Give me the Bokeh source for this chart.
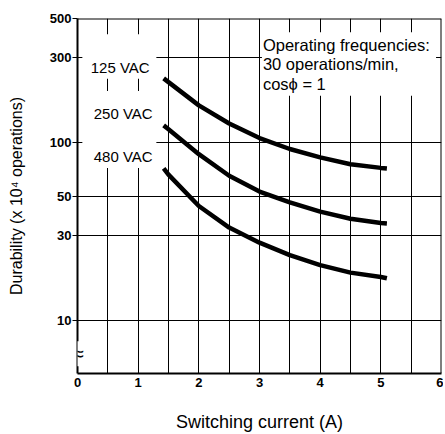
from bokeh.plotting import figure
from bokeh.models import FixedTicker, Label, BoxAnnotation, Span
from bokeh.embed import file_html
from bokeh.resources import INLINE

# ---- data ----
current = [1.42, 1.5, 2.0, 2.5, 3.0, 3.5, 4.0, 4.5, 5.0, 5.1]
dur_125 = [230, 219, 162, 128, 106, 92, 82.5, 75.5, 72, 71.5]
dur_250 = [125, 119, 86, 65, 53, 46, 40.8, 37.2, 35.2, 35]
dur_480 = [71.5, 66, 43.9, 33.2, 27.3, 23.2, 20.4, 18.5, 17.5, 17.2]
series_labels = ["125 VAC", "250 VAC", "480 VAC"]
x_ticks = [0, 1, 2, 3, 4, 5, 6]
x_grid = [0.5, 1, 1.5, 2, 2.5, 3, 3.5, 4, 4.5, 5, 5.5]
y_ticks = [10, 30, 50, 100, 300, 500]
y_grid = [10, 30, 50, 100, 300]
note = "Operating frequencies:\n30 operations/min,\ncos\u03d5 = 1"

FONT = "Liberation Sans"

p = figure(width=443, height=434, x_range=(0, 6), y_range=(5, 500),
           y_axis_type="log", output_backend="svg", toolbar_location=None,
           min_border_left=77, min_border_right=2, min_border_top=18,
           min_border_bottom=52)
p.outline_line_color = None
p.background_fill_color = "white"

# axes
xa = p.xaxis[0]
xa.ticker = FixedTicker(ticks=x_ticks)
xa.major_tick_out = 0
xa.major_tick_in = 0
xa.minor_tick_out = 0
xa.minor_tick_in = 0
xa.major_label_standoff = 4
xa.axis_line_width = 2
xa.axis_line_color = "black"
xa.major_label_text_font = FONT
xa.major_label_text_font_size = "13px"
xa.major_label_text_font_style = "bold"
xa.major_label_text_color = "black"
xa.axis_label = "Switching current (A)"
xa.axis_label_text_font = FONT
xa.axis_label_text_font_size = "18px"
xa.axis_label_text_font_style = "normal"
xa.axis_label_text_color = "black"
xa.axis_label_standoff = 22

ya = p.yaxis[0]
ya.ticker = FixedTicker(ticks=y_ticks)
ya.major_tick_out = 5
ya.major_tick_in = 0
ya.minor_tick_out = 0
ya.minor_tick_in = 0
ya.major_tick_line_color = "black"
ya.major_label_standoff = 1
ya.axis_line_width = 2
ya.axis_line_color = "black"
ya.major_label_text_font = FONT
ya.major_label_text_font_size = "13px"
ya.major_label_text_font_style = "bold"
ya.major_label_text_color = "black"
ya.axis_label = "Durability (x 10\u2074 operations)"
ya.axis_label_text_font = FONT
ya.axis_label_text_font_size = "16px"
ya.axis_label_text_font_style = "normal"
ya.axis_label_text_color = "black"
ya.axis_label_standoff = 22

# grid
p.xgrid.ticker = FixedTicker(ticks=x_grid)
p.ygrid.ticker = FixedTicker(ticks=y_grid)
for g in (p.xgrid[0], p.ygrid[0]):
    g.grid_line_color = "black"
    g.grid_line_width = 1
    g.grid_line_alpha = 1.0

# curves
for ys in (dur_125, dur_250, dur_480):
    p.line(current, ys, line_color="black", line_width=4.5)

# white boxes behind the texts (hide the grid)
for l, r, b, t in [(0.08, 1.30, 229, 407), (0.08, 1.30, 72, 195), (3.04, 5.91, 183.5, 418)]:
    p.add_layout(BoxAnnotation(left=l, right=r, bottom=b, top=t, fill_color="white",
                               fill_alpha=1.0, line_color=None))

# series labels
for txt, lx, ly in zip(series_labels, [0.218, 0.267, 0.267], [264, 145, 83]):
    p.add_layout(Label(x=lx, y=ly, text=txt, text_font=FONT, text_font_size="15px",
                       text_baseline="middle", text_align="left", text_color="black"))

# note
p.add_layout(Label(x=3.056, y=400, text=note, text_font=FONT, text_font_size="16.5px",
                   text_baseline="top", text_align="left", text_color="black",
                   text_line_height=1.1))

# frame top and right
p.add_layout(Span(location=500, dimension="width", line_color="black", line_width=2))
p.add_layout(Span(location=6, dimension="height", line_color="black", line_width=2))

# axis break mark
p.add_layout(Label(x=0, y=6.47, text="\u2248", text_font=FONT, text_font_size="22px",
                   text_baseline="middle", text_align="center", text_color="black",
                   background_fill_color="white"))

open("out.html", "w").write(file_html(p, INLINE))
